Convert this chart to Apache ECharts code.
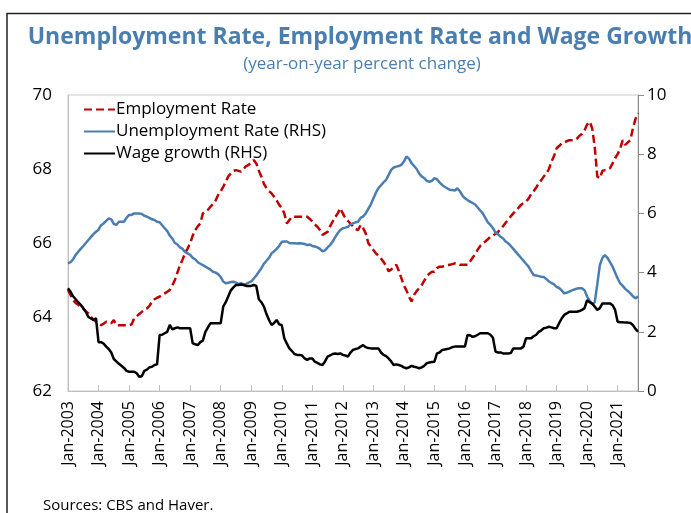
<!DOCTYPE html>
<html>
<head>
<meta charset="utf-8">
<script src="https://cdn.jsdelivr.net/npm/echarts@6/dist/echarts.min.js"></script>
<style>
  html, body { margin: 0; padding: 0; background: #fff; }
  #chart { width: 691px; height: 513px; }
</style>
</head>
<body>
<div id="chart"></div>
<script>
// monthly, Jan-2003 .. Sep-2021
var startYear = 2003
var monthNames = ['Jan', 'Feb', 'Mar', 'Apr', 'May', 'Jun', 'Jul', 'Aug', 'Sep', 'Oct', 'Nov', 'Dec']

var employmentRate = [
  64.73, 64.6, 64.45, 64.38, 64.33, 64.28, 64.22, 64.15, 64.1, 64.0, 63.93, 63.87,
  63.82, 63.78, 63.82, 63.87, 63.85, 63.83, 63.92, 63.78, 63.78, 63.78, 63.78, 63.78,
  63.78, 63.8, 63.96, 64.02, 64.08, 64.14, 64.2, 64.23, 64.3, 64.41, 64.48, 64.52,
  64.55, 64.6, 64.64, 64.68, 64.73, 64.85, 65.0, 65.2, 65.4, 65.55, 65.72, 65.85,
  65.99, 66.2, 66.35, 66.45, 66.53, 66.8, 66.85, 66.9, 66.98, 67.05, 67.15, 67.3,
  67.4, 67.52, 67.66, 67.8, 67.88, 67.95, 67.97, 67.95, 67.93, 68.0, 68.08, 68.11,
  68.18, 68.24, 68.15, 67.95, 67.79, 67.6, 67.48, 67.4, 67.34, 67.25, 67.15, 67.03,
  66.95, 66.8, 66.53, 66.62, 66.71, 66.71, 66.71, 66.71, 66.71, 66.71, 66.71, 66.65,
  66.58, 66.5, 66.44, 66.35, 66.22, 66.26, 66.3, 66.45, 66.58, 66.7, 66.8, 66.94,
  66.8, 66.67, 66.6, 66.52, 66.45, 66.38, 66.35, 66.49, 66.4, 66.26, 66.0, 65.9,
  65.81, 65.72, 65.66, 65.58, 65.49, 65.38, 65.24, 65.28, 65.36, 65.41, 65.25, 65.05,
  64.85, 64.72, 64.55, 64.42, 64.6, 64.7, 64.78, 64.86, 64.98, 65.1, 65.17, 65.22,
  65.22, 65.32, 65.36, 65.36, 65.38, 65.4, 65.41, 65.43, 65.45, 65.44, 65.41, 65.41,
  65.41, 65.41, 65.5, 65.6, 65.7, 65.82, 65.92, 66.0, 66.04, 66.1, 66.17, 66.2,
  66.25, 66.3, 66.38, 66.46, 66.55, 66.63, 66.72, 66.8, 66.88, 66.95, 67.03, 67.08,
  67.12, 67.2, 67.32, 67.4, 67.5, 67.61, 67.7, 67.8, 67.88, 68.0, 68.2, 68.35,
  68.56, 68.62, 68.69, 68.72, 68.75, 68.78, 68.78, 68.78, 68.82, 68.9, 68.95, 69.05,
  69.2, 69.28, 69.1, 68.6, 67.8, 67.75, 67.95, 67.97, 67.98, 68.02, 68.15, 68.29,
  68.4, 68.55, 68.78, 68.65, 68.72, 68.78, 69.1, 69.35, 69.51
]

var unemploymentRate = [
  4.31, 4.35, 4.45, 4.6, 4.7, 4.8, 4.9, 5.0, 5.1, 5.2, 5.3, 5.38,
  5.45, 5.6, 5.66, 5.75, 5.83, 5.8, 5.65, 5.61, 5.72, 5.72, 5.72, 5.85,
  5.95, 5.95, 6.0, 6.0, 6.0, 5.98, 5.92, 5.89, 5.85, 5.8, 5.78, 5.72,
  5.7, 5.6, 5.5, 5.4, 5.25, 5.15, 5.0, 4.95, 4.85, 4.8, 4.7, 4.65,
  4.6, 4.5, 4.45, 4.35, 4.3, 4.25, 4.2, 4.15, 4.1, 4.03, 4.0, 3.95,
  3.85, 3.7, 3.64, 3.66, 3.68, 3.69, 3.66, 3.62, 3.64, 3.6, 3.62, 3.66,
  3.7, 3.8, 3.9, 4.03, 4.15, 4.3, 4.4, 4.5, 4.65, 4.72, 4.8, 4.9,
  5.04, 5.05, 5.05, 5.0, 4.99, 4.99, 4.98, 4.99, 4.98, 4.97, 4.93, 4.95,
  4.9, 4.88, 4.85, 4.8, 4.72, 4.75, 4.85, 4.93, 5.05, 5.2, 5.33, 5.44,
  5.5, 5.52, 5.55, 5.62, 5.66, 5.7, 5.72, 5.85, 5.9, 6.0, 6.15, 6.3,
  6.5, 6.7, 6.85, 6.95, 7.05, 7.13, 7.3, 7.47, 7.55, 7.58, 7.6, 7.64,
  7.75, 7.92, 7.85, 7.7, 7.6, 7.5, 7.35, 7.25, 7.19, 7.1, 7.07, 7.1,
  7.19, 7.15, 7.05, 6.96, 6.9, 6.85, 6.8, 6.79, 6.77, 6.85, 6.75, 6.6,
  6.51, 6.45, 6.4, 6.35, 6.3, 6.2, 6.1, 6.0, 5.85, 5.7, 5.61, 5.5,
  5.35, 5.3, 5.21, 5.15, 5.05, 4.99, 4.9, 4.8, 4.7, 4.6, 4.5, 4.4,
  4.3, 4.2, 4.05, 3.92, 3.9, 3.88, 3.86, 3.85, 3.78, 3.7, 3.65, 3.6,
  3.52, 3.48, 3.4, 3.3, 3.32, 3.36, 3.4, 3.43, 3.46, 3.47, 3.47, 3.4,
  3.19, 3.05, 2.93, 3.0, 3.6, 4.25, 4.5, 4.59, 4.5, 4.35, 4.2, 4.0,
  3.8, 3.64, 3.55, 3.45, 3.38, 3.3, 3.2, 3.13, 3.19
]

var wageGrowth = [
  3.47, 3.35, 3.2, 3.1, 3.0, 2.91, 2.8, 2.68, 2.5, 2.45, 2.4, 2.46,
  1.65, 1.65, 1.6, 1.5, 1.42, 1.3, 1.08, 1.0, 0.92, 0.85, 0.78, 0.68,
  0.65, 0.65, 0.65, 0.6, 0.48, 0.5, 0.68, 0.72, 0.8, 0.82, 0.88, 0.9,
  1.89, 1.9, 1.95, 2.0, 2.23, 2.08, 2.12, 2.15, 2.12, 2.12, 2.12, 2.12,
  2.12, 1.61, 1.58, 1.55, 1.65, 1.7, 2.0, 2.15, 2.29, 2.29, 2.29, 2.29,
  2.29, 2.85, 3.0, 3.2, 3.4, 3.5, 3.58, 3.58, 3.6, 3.58, 3.55, 3.55,
  3.55, 3.58, 3.55, 3.1, 3.0, 2.85, 2.6, 2.4, 2.23, 2.3, 2.4, 2.25,
  2.23, 1.78, 1.6, 1.44, 1.35, 1.25, 1.22, 1.22, 1.2, 1.1, 1.05, 1.1,
  1.1, 0.99, 0.95, 0.9, 0.88, 1.0, 1.16, 1.2, 1.25, 1.27, 1.25, 1.27,
  1.22, 1.2, 1.16, 1.3, 1.39, 1.42, 1.44, 1.5, 1.55, 1.48, 1.45, 1.44,
  1.44, 1.44, 1.44, 1.3, 1.22, 1.18, 1.1, 1.0, 0.88, 0.9, 0.88, 0.85,
  0.8, 0.77, 0.8, 0.85, 0.82, 0.8, 0.77, 0.8, 0.85, 0.94, 0.96, 0.98,
  0.99, 1.27, 1.3, 1.38, 1.4, 1.42, 1.44, 1.48, 1.5, 1.5, 1.5, 1.5,
  1.5, 1.89, 1.88, 1.83, 1.85, 1.9, 1.95, 1.95, 1.95, 1.95, 1.9, 1.8,
  1.33, 1.3, 1.3, 1.27, 1.27, 1.27, 1.28, 1.44, 1.44, 1.44, 1.44, 1.5,
  1.78, 1.78, 1.78, 1.85, 1.9, 2.0, 2.05, 2.12, 2.14, 2.17, 2.15, 2.12,
  2.12, 2.29, 2.45, 2.57, 2.62, 2.68, 2.68, 2.68, 2.68, 2.7, 2.74, 2.8,
  3.07, 3.0, 2.95, 2.85, 2.74, 2.8, 2.96, 2.96, 2.96, 2.96, 2.9, 2.74,
  2.34, 2.32, 2.32, 2.31, 2.31, 2.3, 2.23, 2.1, 2.0
]

var months = []
for (var i = 0; i < employmentRate.length; i++) {
  months.push(monthNames[i % 12] + '-' + (startYear + Math.floor(i / 12)))
}

var fontFamily = '"Open Sans", "Noto Sans", sans-serif'
var blue = '#4a7eb0'
var red = '#c00000'

var chart = echarts.init(document.getElementById('chart'))
chart.setOption({
  animation: false,
  title: [
    {
      text: 'Unemployment Rate, Employment Rate and Wage Growth',
      left: 355,
      top: 21,
      textAlign: 'center',
      textStyle: { color: blue, fontSize: 23, fontWeight: 'bold', fontFamily: fontFamily }
    },
    {
      text: '(year-on-year percent change)',
      left: 357,
      top: 51,
      textAlign: 'center',
      textStyle: { color: blue, fontSize: 17, fontWeight: 'normal', fontFamily: fontFamily }
    },
    {
      text: 'Sources: CBS and Haver.',
      left: 43,
      top: 498,
      padding: 0,
      textStyle: { color: '#000', fontSize: 15, fontWeight: 'normal', fontFamily: fontFamily }
    }
  ],
  graphic: [
    {
      type: 'polyline',
      silent: true,
      shape: { points: [[7, 513], [7, 13.5], [691, 13.5]] },
      style: { stroke: '#222', lineWidth: 1.5, fill: null }
    }
  ],
  legend: {
    orient: 'vertical',
    left: 78,
    top: 96,
    itemGap: 5,
    itemWidth: 31,
    itemHeight: 18,
    itemStyle: { opacity: 0 },
    textStyle: { color: '#000', fontSize: 17, fontFamily: fontFamily, padding: [0, 0, 0, -4] },
    data: ['Employment Rate', 'Unemployment Rate (RHS)', 'Wage growth (RHS)']
  },
  grid: {
    left: 68,
    right: 53,
    top: 95,
    bottom: 122,
    show: true,
    borderColor: '#c9c9c9',
    borderWidth: 1
  },
  xAxis: {
    type: 'category',
    data: months,
    boundaryGap: false,
    axisLine: { lineStyle: { color: '#bfbfbf', width: 1 } },
    axisTick: {
      inside: true,
      length: 6,
      lineStyle: { color: '#bfbfbf' },
      interval: function (index) { return index % 12 === 0 }
    },
    axisLabel: {
      rotate: 90,
      margin: 10,
      color: '#000',
      fontSize: 16,
      fontFamily: fontFamily,
      interval: function (index) { return index % 12 === 0 }
    }
  },
  yAxis: [
    {
      type: 'value',
      min: 62,
      max: 70,
      interval: 2,
      position: 'left',
      axisLine: { show: true, lineStyle: { color: '#bfbfbf' } },
      axisTick: { show: false },
      splitLine: { show: false },
      axisLabel: { color: '#000', fontSize: 17, fontFamily: fontFamily, margin: 16 }
    },
    {
      type: 'value',
      min: 0,
      max: 10,
      interval: 2,
      position: 'right',
      axisLine: { show: true, lineStyle: { color: '#8c8c8c' } },
      axisTick: { show: true, length: 6, lineStyle: { color: '#8c8c8c' } },
      splitLine: { show: false },
      axisLabel: { color: '#000', fontSize: 17, fontFamily: fontFamily, margin: 9 }
    }
  ],
  series: [
    {
      name: 'Employment Rate',
      type: 'line',
      yAxisIndex: 0,
      data: employmentRate,
      symbol: 'none',
      lineStyle: { color: red, width: 2.5, type: [8, 4] },
      itemStyle: { color: red }
    },
    {
      name: 'Unemployment Rate (RHS)',
      type: 'line',
      yAxisIndex: 1,
      data: unemploymentRate,
      symbol: 'none',
      lineStyle: { color: blue, width: 2.5 },
      itemStyle: { color: blue }
    },
    {
      name: 'Wage growth (RHS)',
      type: 'line',
      yAxisIndex: 1,
      data: wageGrowth,
      symbol: 'none',
      lineStyle: { color: '#000', width: 2.5 },
      itemStyle: { color: '#000' }
    }
  ]
})
</script>
</body>
</html>
